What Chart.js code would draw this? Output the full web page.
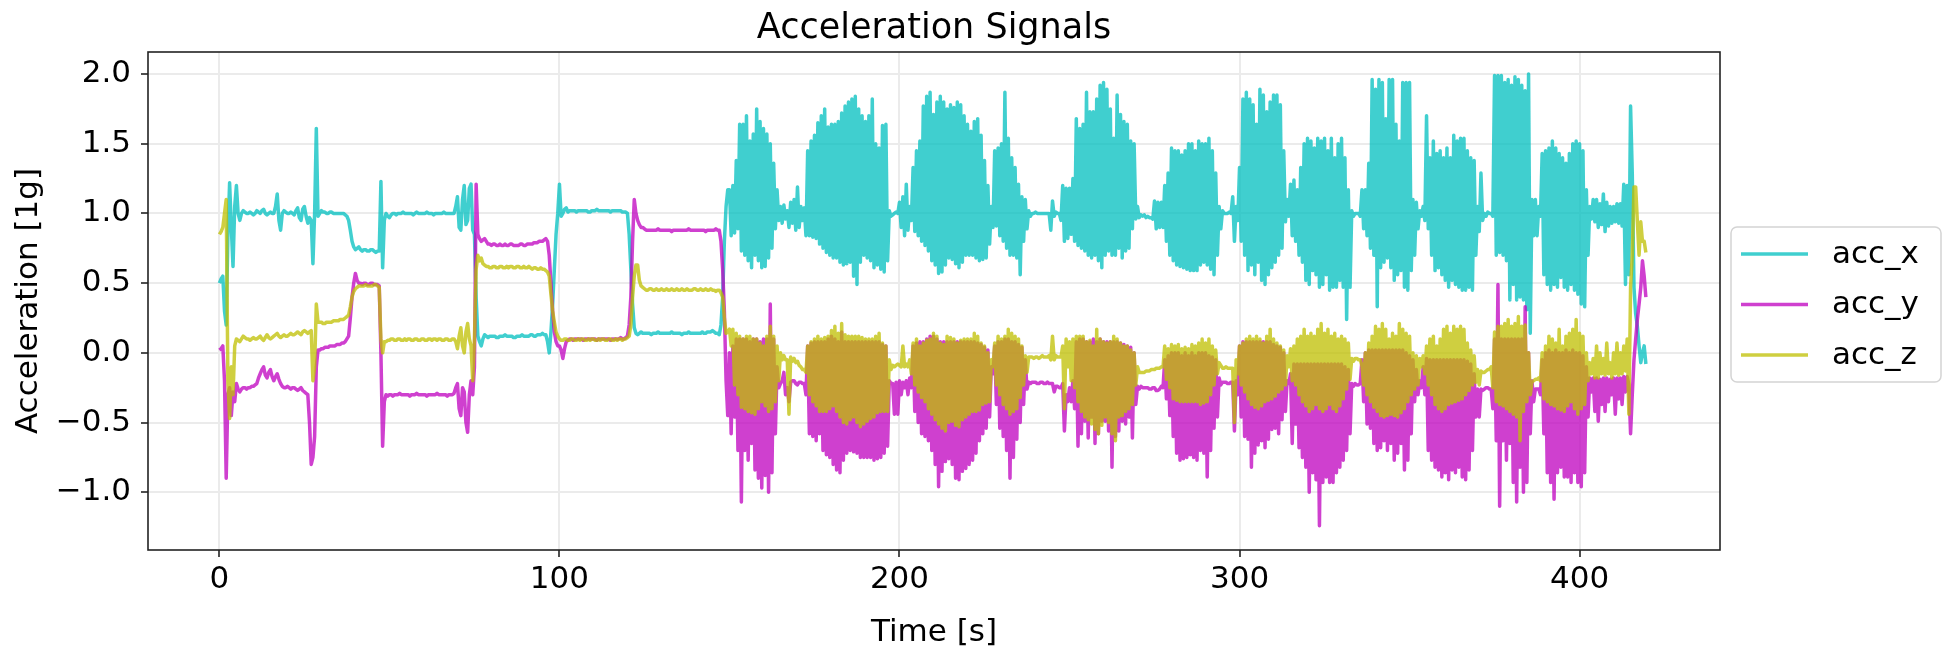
<!DOCTYPE html>
<html>
<head>
<meta charset="utf-8">
<title>Acceleration Signals</title>
<script src="https://cdn.jsdelivr.net/npm/chart.js@4.4.1/dist/chart.umd.min.js"></script>
<style>
  html, body { margin: 0; padding: 0; background: #fff; }
  #wrap { width: 1944px; height: 666px; }
</style>
</head>
<body>
<div id="wrap"><canvas id="chart" width="1944" height="666"></canvas></div>
<script>
// Signals, two readings per second:
// acc*   -> at t = 0, 1, 2 ... s (crest of the fast oscillation where there is one)
// acc*Half -> at t = 0.5, 1.5, 2.5 ... s (trough of the fast oscillation)
const seriesNames = ['acc_x', 'acc_y', 'acc_z'];
const sampleStart = 0;   // s
const samplePeriod = 1;  // s

const accX = [
  0.50, 0.55, 0.20, 1.22, 0.62, 1.20, 0.95, 1.02, 1.00, 1.01,
  0.99, 1.02, 1.00, 1.03, 0.99, 1.01, 1.00, 1.14, 0.88, 1.02,
  1.00, 1.01, 0.99, 1.04, 0.95, 1.05, 0.93, 0.95, 1.00, 0.98,
  1.02, 1.01, 1.00, 1.01, 1.00, 1.00, 1.00, 0.99, 0.95, 0.80,
  0.74, 0.76, 0.73, 0.74, 0.73, 0.74, 0.72, 0.73, 0.61, 1.00,
  0.97, 1.00, 0.99, 1.00, 1.01, 1.00, 1.00, 0.99, 1.01, 1.00,
  1.00, 1.01, 1.00, 0.99, 1.00, 1.00, 1.01, 1.00, 1.00, 1.00,
  1.12, 0.88, 1.20, 0.95, 1.21, 0.85, 0.12, 0.05, 0.13, 0.11,
  0.12, 0.12, 0.11, 0.12, 0.13, 0.12, 0.12, 0.11, 0.12, 0.13,
  0.12, 0.12, 0.13, 0.12, 0.13, 0.14, 0.13, 0.00, 0.35, 0.85,
  1.21, 1.00, 1.04, 1.02, 1.02, 1.01, 1.02, 1.02, 1.02, 1.01,
  1.02, 1.03, 1.02, 1.02, 1.02, 1.01, 1.02, 1.02, 1.02, 1.01,
  1.00, 0.60, 0.18, 0.13, 0.15, 0.14, 0.14, 0.13, 0.14, 0.15,
  0.14, 0.14, 0.14, 0.15, 0.14, 0.14, 0.13, 0.14, 0.15, 0.14,
  0.14, 0.14, 0.15, 0.14, 0.15, 0.16, 0.14, 0.13, 0.40, 1.05,
  1.17, 1.20, 1.38, 1.64, 1.64, 1.70, 1.52, 1.57, 1.75, 1.66,
  1.61, 1.57, 1.50, 1.36, 1.17, 1.05, 1.06, 1.02, 1.08, 1.10,
  1.19, 1.05, 1.04, 1.45, 1.52, 1.56, 1.65, 1.70, 1.75, 1.62,
  1.64, 1.64, 1.66, 1.72, 1.77, 1.80, 1.82, 1.84, 1.75, 1.70,
  1.66, 1.70, 1.82, 1.50, 1.47, 1.63, 1.64, 1.02, 0.99, 1.01,
  1.08, 1.12, 1.21, 1.05, 1.33, 1.45, 1.52, 1.77, 1.84, 1.87,
  1.71, 1.80, 1.84, 1.80, 1.75, 1.78, 1.76, 1.80, 1.78, 1.70,
  1.64, 1.59, 1.66, 1.68, 1.56, 1.38, 1.20, 1.05, 1.45, 1.47,
  1.50, 1.87, 1.54, 1.40, 1.33, 1.21, 1.12, 1.10, 1.02, 1.00,
  1.01, 1.00, 1.00, 1.00, 1.00, 1.09, 1.01, 1.00, 1.20, 1.18,
  1.18, 1.25, 1.68, 1.61, 1.64, 1.87, 1.73, 1.73, 1.82, 1.92,
  1.94, 1.89, 1.75, 1.54, 1.85, 1.71, 1.66, 1.64, 1.52, 1.50,
  1.05, 0.99, 0.99, 0.98, 0.97, 1.09, 1.08, 1.08, 1.20, 1.29,
  1.47, 1.45, 1.45, 1.42, 1.45, 1.50, 1.50, 1.45, 1.52, 1.50,
  1.50, 1.54, 1.45, 1.29, 1.05, 1.02, 1.00, 1.01, 1.12, 1.05,
  1.33, 1.82, 1.87, 1.82, 1.78, 1.64, 1.89, 1.85, 1.73, 1.80,
  1.85, 1.85, 1.78, 1.45, 1.10, 1.21, 1.24, 1.17, 1.33, 1.50,
  1.54, 1.52, 1.47, 1.54, 1.52, 1.54, 1.45, 1.54, 1.40, 1.50,
  1.54, 1.40, 1.17, 1.02, 1.00, 1.00, 1.17, 1.17, 1.36, 1.96,
  1.89, 1.96, 1.94, 1.68, 1.96, 1.96, 1.64, 1.52, 1.94, 1.94,
  1.94, 1.10, 1.08, 1.02, 1.05, 1.70, 1.40, 1.52, 1.43, 1.45,
  1.40, 1.47, 1.40, 1.56, 1.52, 1.54, 1.54, 1.45, 1.40, 1.38,
  1.05, 1.29, 1.00, 1.01, 1.00, 1.99, 1.99, 1.99, 1.94, 1.96,
  1.92, 1.98, 1.96, 1.92, 1.88, 2.00, 1.10, 1.10, 1.05, 1.43,
  1.45, 1.47, 1.52, 1.47, 1.43, 1.40, 1.36, 1.43, 1.50, 1.52,
  1.50, 1.45, 1.17, 1.05, 1.10, 1.10, 1.07, 1.14, 1.08, 1.05,
  1.05, 1.07, 1.07, 1.21, 1.20, 1.77, 0.47, 0.19, -0.07, 0.05
];
const accXHalf = [
  0.53, 0.30, 0.85, 0.90, 1.05, 1.00, 1.00, 1.01, 1.00, 1.00,
  1.00, 1.01, 1.02, 1.00, 1.00, 1.00, 1.05, 0.95, 1.00, 1.01,
  1.00, 1.00, 1.02, 0.97, 1.03, 0.98, 0.97, 0.64, 1.61, 1.00,
  1.01, 1.00, 1.01, 1.00, 1.00, 1.00, 1.00, 0.98, 0.88, 0.76,
  0.75, 0.74, 0.74, 0.73, 0.74, 0.73, 0.73, 1.23, 0.95, 0.98,
  0.99, 1.00, 1.00, 1.00, 1.00, 1.00, 1.00, 1.00, 1.00, 1.00,
  1.00, 1.00, 1.00, 1.00, 1.00, 1.00, 1.00, 1.00, 1.00, 1.05,
  0.90, 1.10, 0.92, 1.18, 0.88, 0.40, 0.08, 0.10, 0.12, 0.12,
  0.12, 0.11, 0.12, 0.12, 0.12, 0.12, 0.11, 0.12, 0.12, 0.12,
  0.12, 0.13, 0.12, 0.13, 0.13, 0.13, 0.08, 0.15, 0.60, 1.00,
  0.98, 1.03, 1.01, 1.02, 1.02, 1.02, 1.02, 1.02, 1.01, 1.02,
  1.02, 1.02, 1.02, 1.02, 1.02, 1.02, 1.02, 1.02, 1.01, 1.01,
  0.85, 0.35, 0.14, 0.14, 0.14, 0.14, 0.14, 0.14, 0.14, 0.14,
  0.14, 0.14, 0.14, 0.14, 0.14, 0.14, 0.14, 0.14, 0.14, 0.14,
  0.14, 0.14, 0.14, 0.15, 0.15, 0.15, 0.14, 0.20, 0.80, 1.17,
  0.84, 0.86, 0.89, 0.73, 0.70, 0.66, 0.61, 0.70, 0.66, 0.61,
  0.62, 0.68, 0.75, 0.89, 0.95, 0.93, 0.96, 0.90, 0.93, 0.88,
  0.90, 0.95, 0.84, 0.84, 0.83, 0.82, 0.78, 0.75, 0.72, 0.70,
  0.68, 0.68, 0.65, 0.63, 0.64, 0.65, 0.55, 0.49, 0.65, 0.70,
  0.68, 0.66, 0.61, 0.63, 0.60, 0.58, 0.66, 0.98, 1.00, 1.00,
  0.90, 0.84, 0.88, 0.95, 0.87, 0.84, 0.80, 0.77, 0.73, 0.66,
  0.63, 0.57, 0.58, 0.63, 0.68, 0.67, 0.64, 0.61, 0.65, 0.70,
  0.70, 0.70, 0.68, 0.66, 0.67, 0.68, 0.78, 0.90, 0.91, 0.84,
  0.80, 0.75, 0.70, 0.70, 0.68, 0.56, 0.80, 0.89, 0.98, 1.00,
  1.00, 1.00, 1.00, 1.00, 0.88, 0.98, 1.00, 0.95, 0.80, 0.82,
  0.85, 0.80, 0.77, 0.75, 0.73, 0.70, 0.68, 0.70, 0.66, 0.61,
  0.70, 0.73, 0.70, 0.70, 0.75, 0.68, 0.73, 0.75, 0.89, 0.96,
  0.97, 0.98, 0.97, 0.97, 0.96, 0.89, 0.90, 0.90, 0.80, 0.70,
  0.66, 0.63, 0.62, 0.61, 0.60, 0.59, 0.59, 0.59, 0.63, 0.65,
  0.63, 0.60, 0.56, 0.70, 0.89, 1.00, 1.00, 1.00, 0.80, 0.95,
  0.80, 0.70, 0.59, 0.63, 0.56, 0.65, 0.52, 0.49, 0.56, 0.61,
  0.65, 0.70, 0.75, 0.94, 0.98, 0.84, 0.80, 0.70, 0.65, 0.52,
  0.49, 0.59, 0.56, 0.47, 0.49, 0.56, 0.45, 0.47, 0.47, 0.52,
  0.47, 0.24, 0.47, 0.98, 1.00, 0.98, 0.89, 0.84, 0.75, 0.70,
  0.33, 0.61, 0.65, 0.68, 0.61, 0.52, 0.56, 0.59, 0.47, 0.45,
  0.59, 0.70, 0.89, 0.98, 0.95, 0.89, 0.70, 0.59, 0.61, 0.56,
  0.52, 0.47, 0.52, 0.49, 0.47, 0.45, 0.45, 0.47, 0.45, 0.70,
  0.87, 0.95, 0.98, 1.00, 0.98, 0.70, 0.72, 0.70, 0.66, 0.38,
  0.49, 0.38, 0.40, 0.38, 0.31, 0.14, 0.84, 0.84, 0.98, 0.56,
  0.49, 0.45, 0.49, 0.47, 0.54, 0.47, 0.45, 0.49, 0.45, 0.42,
  0.35, 0.33, 0.70, 0.96, 0.94, 0.90, 0.92, 0.87, 0.91, 0.93,
  0.94, 0.93, 0.91, 0.49, 0.56, 1.29, 0.28, 0.05, 0.00, -0.08
];

const accY = [
  0.02, 0.05, -0.90, -0.25, -0.28, -0.22, -0.28, -0.25, -0.26, -0.25,
  -0.24, -0.22, -0.15, -0.10, -0.18, -0.12, -0.20, -0.15, -0.22, -0.25,
  -0.24, -0.26, -0.25, -0.27, -0.25, -0.28, -0.30, -0.80, -0.60, 0.02,
  0.03, 0.04, 0.04, 0.05, 0.05, 0.06, 0.07, 0.08, 0.12, 0.40,
  0.57, 0.50, 0.49, 0.50, 0.49, 0.50, 0.49, 0.48, -0.67, -0.30,
  -0.30, -0.31, -0.30, -0.29, -0.30, -0.30, -0.31, -0.30, -0.29, -0.30,
  -0.30, -0.31, -0.30, -0.30, -0.29, -0.30, -0.30, -0.31, -0.30, -0.29,
  -0.22, -0.45, -0.28, -0.57, -0.20, -0.10, 0.85, 0.80, 0.82, 0.78,
  0.77, 0.78, 0.77, 0.77, 0.78, 0.77, 0.78, 0.77, 0.77, 0.78,
  0.77, 0.78, 0.78, 0.79, 0.80, 0.80, 0.82, 0.70, 0.30, 0.08,
  0.05, -0.04, 0.08, 0.10, 0.09, 0.10, 0.10, 0.09, 0.10, 0.10,
  0.10, 0.09, 0.10, 0.10, 0.10, 0.09, 0.10, 0.10, 0.11, 0.10,
  0.12, 0.40, 1.10, 0.95, 0.90, 0.89, 0.88, 0.88, 0.88, 0.89,
  0.88, 0.88, 0.88, 0.87, 0.88, 0.88, 0.88, 0.88, 0.89, 0.88,
  0.88, 0.88, 0.88, 0.87, 0.88, 0.88, 0.89, 0.88, 0.60, -0.20,
  0.00, 0.05, 0.10, 0.10, 0.10, 0.10, 0.08, 0.10, 0.10, 0.08,
  0.10, 0.10, 0.35, 0.10, -0.10, -0.22, -0.14, -0.25, -0.21, -0.20,
  -0.23, -0.21, -0.22, 0.05, 0.07, 0.08, 0.08, 0.08, 0.08, 0.10,
  0.12, 0.10, 0.08, 0.15, 0.08, 0.08, 0.08, 0.08, 0.08, 0.08,
  0.08, 0.08, 0.08, 0.08, 0.08, 0.06, 0.05, -0.20, -0.22, -0.21,
  -0.20, -0.21, -0.20, -0.18, 0.05, 0.07, 0.08, 0.08, 0.10, 0.12,
  0.12, 0.10, 0.08, 0.08, 0.08, 0.08, 0.08, 0.08, 0.08, 0.08,
  0.08, 0.08, 0.08, 0.07, 0.06, 0.04, 0.02, -0.10, 0.05, 0.08,
  0.08, 0.10, 0.10, 0.08, 0.08, 0.06, 0.04, -0.05, -0.21, -0.21,
  -0.21, -0.22, -0.21, -0.22, -0.22, -0.22, -0.24, -0.25, -0.22, -0.30,
  -0.25, -0.20, 0.08, 0.10, 0.10, 0.08, 0.08, 0.10, 0.08, 0.10,
  0.08, 0.08, 0.08, 0.08, 0.08, 0.07, 0.06, 0.05, 0.04, 0.00,
  -0.24, -0.24, -0.25, -0.25, -0.26, -0.25, -0.27, -0.24, -0.05, -0.02,
  0.00, 0.00, 0.00, -0.02, 0.00, -0.02, 0.00, -0.02, 0.00, 0.00,
  0.00, -0.02, -0.03, -0.05, -0.18, -0.21, -0.21, -0.22, -0.21, -0.20,
  0.05, 0.08, 0.08, 0.08, 0.08, 0.08, 0.08, 0.08, 0.08, 0.08,
  0.06, 0.05, 0.04, 0.00, -0.20, -0.15, -0.08, -0.08, -0.08, -0.08,
  -0.08, -0.08, -0.08, -0.08, -0.08, -0.08, -0.08, -0.08, -0.08, -0.08,
  -0.08, -0.10, -0.12, -0.22, -0.22, -0.23, -0.05, 0.00, 0.02, 0.02,
  0.02, 0.02, 0.02, 0.02, 0.02, 0.02, 0.02, 0.02, 0.02, 0.00,
  -0.02, -0.05, -0.12, -0.20, -0.10, -0.04, -0.05, -0.05, -0.05, -0.05,
  -0.05, -0.05, -0.05, -0.05, -0.05, -0.05, -0.05, -0.06, -0.08, -0.15,
  -0.26, -0.26, -0.26, -0.25, -0.26, 0.10, 0.49, 0.10, 0.10, 0.10,
  0.10, 0.10, 0.10, 0.10, 0.33, 0.00, -0.20, -0.26, -0.26, -0.05,
  0.00, 0.02, 0.00, 0.02, 0.00, 0.00, 0.02, 0.00, 0.02, 0.00,
  0.00, -0.02, -0.10, -0.18, -0.18, -0.18, -0.19, -0.18, -0.18, -0.19,
  -0.18, -0.18, -0.18, -0.17, -0.17, -0.58, -0.05, 0.24, 0.47, 0.55
];
const accYHalf = [
  0.03, -0.20, -0.30, -0.45, -0.35, -0.26, -0.26, -0.25, -0.25, -0.24,
  -0.23, -0.18, -0.12, -0.16, -0.14, -0.17, -0.17, -0.19, -0.24, -0.25,
  -0.25, -0.25, -0.26, -0.26, -0.27, -0.29, -0.50, -0.75, -0.10, 0.02,
  0.03, 0.04, 0.05, 0.05, 0.06, 0.06, 0.07, 0.10, 0.25, 0.50,
  0.52, 0.50, 0.50, 0.49, 0.50, 0.49, 0.49, 0.00, -0.35, -0.31,
  -0.30, -0.30, -0.30, -0.30, -0.30, -0.30, -0.30, -0.30, -0.30, -0.30,
  -0.30, -0.30, -0.30, -0.30, -0.30, -0.30, -0.30, -0.30, -0.30, -0.25,
  -0.40, -0.25, -0.50, -0.30, -0.30, 1.21, 0.82, 0.81, 0.80, 0.78,
  0.78, 0.77, 0.78, 0.77, 0.77, 0.78, 0.77, 0.77, 0.78, 0.77,
  0.78, 0.78, 0.79, 0.79, 0.80, 0.81, 0.80, 0.50, 0.15, 0.05,
  0.02, 0.03, 0.09, 0.10, 0.10, 0.10, 0.10, 0.10, 0.10, 0.10,
  0.10, 0.10, 0.10, 0.10, 0.10, 0.10, 0.10, 0.10, 0.10, 0.11,
  0.20, 0.80, 1.00, 0.92, 0.90, 0.88, 0.88, 0.88, 0.88, 0.88,
  0.88, 0.88, 0.88, 0.88, 0.88, 0.88, 0.88, 0.88, 0.88, 0.88,
  0.88, 0.88, 0.88, 0.88, 0.88, 0.88, 0.88, 0.80, 0.30, -0.45,
  -0.58, -0.46, -0.70, -1.07, -0.70, -0.77, -0.65, -0.84, -0.90, -0.97,
  -0.88, -1.00, -0.86, -0.58, -0.25, -0.20, -0.30, -0.35, -0.20, -0.22,
  -0.21, -0.22, -0.30, -0.58, -0.60, -0.63, -0.58, -0.70, -0.73, -0.75,
  -0.80, -0.84, -0.86, -0.77, -0.72, -0.70, -0.71, -0.72, -0.75, -0.75,
  -0.75, -0.75, -0.77, -0.76, -0.75, -0.72, -0.67, -0.22, -0.44, -0.44,
  -0.30, -0.25, -0.30, -0.25, -0.42, -0.50, -0.58, -0.60, -0.63, -0.70,
  -0.80, -0.96, -0.85, -0.78, -0.76, -0.80, -0.90, -0.91, -0.85, -0.83,
  -0.80, -0.77, -0.72, -0.63, -0.58, -0.54, -0.46, -0.15, -0.37, -0.54,
  -0.60, -0.70, -0.90, -0.75, -0.62, -0.50, -0.37, -0.26, -0.22, -0.21,
  -0.22, -0.21, -0.22, -0.21, -0.22, -0.28, -0.24, -0.25, -0.56, -0.35,
  -0.35, -0.40, -0.67, -0.58, -0.49, -0.61, -0.46, -0.65, -0.58, -0.49,
  -0.49, -0.56, -0.82, -0.60, -0.56, -0.49, -0.51, -0.46, -0.61, -0.37,
  -0.26, -0.25, -0.25, -0.26, -0.25, -0.27, -0.26, -0.25, -0.33, -0.45,
  -0.60, -0.72, -0.77, -0.76, -0.75, -0.73, -0.75, -0.77, -0.70, -0.72,
  -0.89, -0.70, -0.54, -0.46, -0.23, -0.21, -0.22, -0.21, -0.56, -0.30,
  -0.46, -0.60, -0.62, -0.82, -0.72, -0.66, -0.63, -0.68, -0.62, -0.55,
  -0.54, -0.58, -0.48, -0.42, -0.22, -0.65, -0.51, -0.68, -0.75, -0.82,
  -1.00, -0.86, -0.91, -1.24, -0.93, -0.89, -0.93, -0.93, -0.86, -0.82,
  -0.77, -0.70, -0.58, -0.24, -0.23, -0.22, -0.35, -0.51, -0.54, -0.65,
  -0.70, -0.68, -0.63, -0.70, -0.65, -0.77, -0.72, -0.65, -0.84, -0.77,
  -0.58, -0.35, -0.30, -0.25, -0.30, -0.70, -0.77, -0.82, -0.84, -0.89,
  -0.86, -0.91, -0.84, -0.86, -0.82, -0.89, -0.91, -0.84, -0.70, -0.46,
  -0.46, -0.27, -0.25, -0.26, -0.40, -0.63, -1.10, -0.63, -0.77, -0.65,
  -0.93, -1.07, -0.82, -1.00, -0.93, -0.58, -0.35, -0.26, -0.30, -0.58,
  -0.86, -0.93, -1.05, -0.86, -0.82, -0.89, -0.89, -0.93, -0.86, -0.93,
  -0.96, -0.86, -0.46, -0.28, -0.42, -0.49, -0.37, -0.42, -0.35, -0.30,
  -0.44, -0.33, -0.37, -0.28, -0.23, -0.30, 0.10, 0.35, 0.66, 0.40
];

const accZ = [
  0.85, 0.90, 1.10, -0.47, -0.30, 0.10, 0.08, 0.12, 0.10, 0.09,
  0.11, 0.10, 0.12, 0.09, 0.13, 0.10, 0.12, 0.14, 0.11, 0.13,
  0.12, 0.14, 0.13, 0.15, 0.13, 0.16, 0.14, 0.16, -0.10, 0.22,
  0.22, 0.21, 0.22, 0.22, 0.23, 0.23, 0.24, 0.25, 0.27, 0.40,
  0.46, 0.48, 0.48, 0.49, 0.48, 0.48, 0.49, 0.47, 0.00, 0.08,
  0.09, 0.10, 0.09, 0.10, 0.09, 0.09, 0.10, 0.09, 0.10, 0.09,
  0.10, 0.09, 0.10, 0.10, 0.09, 0.10, 0.09, 0.10, 0.09, 0.10,
  0.03, 0.18, 0.00, 0.21, 0.05, 0.10, 0.70, 0.68, 0.63, 0.62,
  0.61, 0.62, 0.61, 0.62, 0.61, 0.61, 0.62, 0.61, 0.62, 0.61,
  0.61, 0.62, 0.60, 0.61, 0.60, 0.60, 0.59, 0.55, 0.30, 0.15,
  0.10, 0.09, 0.10, 0.09, 0.10, 0.09, 0.09, 0.10, 0.09, 0.09,
  0.10, 0.09, 0.09, 0.10, 0.09, 0.10, 0.09, 0.09, 0.10, 0.10,
  0.11, 0.20, 0.55, 0.63, 0.48, 0.46, 0.45, 0.46, 0.45, 0.45,
  0.46, 0.45, 0.45, 0.46, 0.45, 0.45, 0.46, 0.45, 0.45, 0.45,
  0.46, 0.45, 0.45, 0.46, 0.45, 0.45, 0.44, 0.45, 0.40, 0.14,
  0.17, 0.17, 0.14, 0.12, 0.10, 0.12, 0.12, 0.10, 0.10, 0.07,
  0.05, 0.12, 0.19, 0.12, 0.05, 0.00, -0.02, -0.05, -0.03, -0.04,
  -0.06, -0.10, -0.12, 0.05, 0.08, 0.10, 0.12, 0.10, 0.11, 0.12,
  0.16, 0.19, 0.14, 0.21, 0.13, 0.12, 0.12, 0.12, 0.12, 0.11,
  0.10, 0.10, 0.10, 0.12, 0.14, 0.07, 0.05, -0.05, -0.09, -0.09,
  -0.09, 0.05, -0.08, -0.05, 0.07, 0.10, 0.05, 0.07, 0.09, 0.10,
  0.14, 0.12, 0.07, 0.06, 0.12, 0.11, 0.10, 0.07, 0.09, 0.10,
  0.10, 0.10, 0.14, 0.12, 0.07, 0.05, 0.00, -0.05, 0.07, 0.12,
  0.10, 0.12, 0.17, 0.14, 0.12, 0.10, 0.05, -0.02, -0.03, -0.03,
  -0.03, -0.04, -0.02, -0.03, -0.02, 0.12, -0.02, -0.03, 0.05, 0.10,
  0.08, 0.10, 0.12, 0.12, 0.12, 0.08, 0.09, 0.05, 0.17, 0.10,
  0.08, 0.07, 0.08, 0.12, 0.10, 0.07, 0.05, 0.05, 0.02, 0.00,
  -0.10, -0.14, -0.14, -0.13, -0.12, -0.12, -0.11, -0.10, 0.05, 0.03,
  0.06, 0.05, 0.06, 0.03, 0.04, 0.03, 0.06, 0.05, 0.07, 0.10,
  0.07, 0.10, 0.05, 0.02, -0.07, -0.11, -0.10, -0.11, -0.11, -0.05,
  0.05, 0.07, 0.10, 0.12, 0.10, 0.12, 0.10, 0.07, 0.12, 0.17,
  0.10, 0.07, 0.05, 0.02, -0.02, 0.03, 0.05, 0.10, 0.12, 0.17,
  0.12, 0.14, 0.12, 0.17, 0.21, 0.14, 0.17, 0.12, 0.14, 0.10,
  0.12, 0.10, 0.07, -0.04, -0.04, -0.05, -0.09, 0.00, 0.07, 0.12,
  0.19, 0.17, 0.21, 0.17, 0.10, 0.14, 0.12, 0.21, 0.17, 0.14,
  0.12, 0.00, -0.02, -0.04, -0.02, 0.05, 0.10, 0.12, 0.05, 0.10,
  0.17, 0.19, 0.14, 0.19, 0.17, 0.19, 0.17, 0.07, 0.02, -0.02,
  -0.12, -0.13, -0.14, -0.12, -0.10, 0.15, 0.19, 0.19, 0.21, 0.24,
  0.19, 0.21, 0.26, 0.19, 0.20, 0.00, -0.21, -0.19, -0.18, 0.00,
  0.05, 0.12, 0.10, 0.07, 0.17, 0.05, 0.12, 0.14, 0.17, 0.24,
  0.14, 0.12, 0.00, -0.07, -0.04, 0.05, 0.00, -0.04, 0.07, -0.07,
  0.00, 0.07, 0.00, 0.05, 0.10, 0.47, 1.19, 0.94, 0.94, 0.80
];
const accZHalf = [
  0.87, 1.00, -0.20, -0.10, 0.05, 0.09, 0.10, 0.11, 0.10, 0.10,
  0.10, 0.11, 0.10, 0.11, 0.11, 0.11, 0.13, 0.12, 0.12, 0.12,
  0.13, 0.13, 0.14, 0.14, 0.15, 0.15, 0.15, -0.20, 0.35, 0.22,
  0.21, 0.22, 0.22, 0.23, 0.23, 0.24, 0.24, 0.26, 0.33, 0.44,
  0.47, 0.48, 0.48, 0.48, 0.48, 0.49, 0.48, 0.10, 0.08, 0.09,
  0.10, 0.09, 0.10, 0.09, 0.10, 0.10, 0.09, 0.10, 0.09, 0.10,
  0.09, 0.10, 0.09, 0.10, 0.10, 0.09, 0.10, 0.09, 0.10, 0.08,
  0.12, 0.05, 0.15, 0.10, -0.20, 0.60, 0.66, 0.64, 0.62, 0.61,
  0.62, 0.61, 0.62, 0.61, 0.62, 0.62, 0.61, 0.62, 0.61, 0.62,
  0.61, 0.61, 0.61, 0.60, 0.61, 0.60, 0.58, 0.42, 0.22, 0.12,
  0.09, 0.10, 0.09, 0.10, 0.09, 0.10, 0.10, 0.09, 0.10, 0.10,
  0.09, 0.10, 0.10, 0.09, 0.10, 0.09, 0.10, 0.10, 0.09, 0.10,
  0.12, 0.40, 0.63, 0.52, 0.47, 0.45, 0.46, 0.45, 0.46, 0.45,
  0.45, 0.46, 0.45, 0.45, 0.46, 0.45, 0.45, 0.46, 0.45, 0.46,
  0.45, 0.46, 0.45, 0.45, 0.46, 0.45, 0.45, 0.43, 0.25, 0.15,
  0.05, -0.23, -0.30, -0.39, -0.40, -0.42, -0.43, -0.44, -0.40, -0.35,
  -0.38, -0.42, -0.40, -0.35, -0.20, -0.05, -0.05, -0.44, -0.06, -0.07,
  -0.09, -0.12, -0.14, -0.30, -0.35, -0.38, -0.42, -0.42, -0.42, -0.40,
  -0.38, -0.42, -0.46, -0.50, -0.51, -0.48, -0.46, -0.50, -0.53, -0.51,
  -0.49, -0.47, -0.46, -0.43, -0.42, -0.42, -0.42, -0.12, -0.10, -0.08,
  -0.10, -0.10, -0.10, -0.15, -0.23, -0.28, -0.32, -0.35, -0.40, -0.44,
  -0.48, -0.51, -0.54, -0.56, -0.50, -0.49, -0.52, -0.53, -0.48, -0.46,
  -0.44, -0.42, -0.42, -0.41, -0.37, -0.36, -0.35, -0.10, -0.23, -0.30,
  -0.37, -0.40, -0.44, -0.42, -0.40, -0.32, -0.23, -0.14, -0.03, -0.04,
  -0.03, -0.03, -0.03, -0.03, -0.05, -0.05, -0.03, -0.03, -0.40, -0.10,
  -0.20, -0.25, -0.35, -0.42, -0.46, -0.48, -0.51, -0.55, -0.58, -0.52,
  -0.46, -0.50, -0.58, -0.63, -0.46, -0.45, -0.42, -0.40, -0.37, -0.23,
  -0.14, -0.14, -0.13, -0.13, -0.12, -0.11, -0.11, -0.10, -0.19, -0.25,
  -0.33, -0.34, -0.35, -0.35, -0.35, -0.35, -0.35, -0.35, -0.37, -0.36,
  -0.35, -0.30, -0.23, -0.15, -0.09, -0.11, -0.11, -0.11, -0.50, -0.15,
  -0.23, -0.28, -0.33, -0.37, -0.39, -0.40, -0.38, -0.35, -0.34, -0.33,
  -0.31, -0.28, -0.26, -0.23, -0.10, -0.20, -0.23, -0.30, -0.35, -0.38,
  -0.42, -0.40, -0.37, -0.40, -0.42, -0.40, -0.37, -0.40, -0.42, -0.38,
  -0.33, -0.26, -0.19, -0.06, -0.04, -0.05, -0.23, -0.30, -0.35, -0.39,
  -0.42, -0.45, -0.46, -0.45, -0.44, -0.45, -0.46, -0.43, -0.40, -0.35,
  -0.30, -0.26, -0.23, -0.10, -0.15, -0.23, -0.30, -0.37, -0.40, -0.42,
  -0.40, -0.37, -0.36, -0.35, -0.34, -0.33, -0.30, -0.27, -0.23, -0.21,
  -0.23, -0.14, -0.13, -0.12, -0.25, -0.35, -0.37, -0.38, -0.40, -0.42,
  -0.44, -0.46, -0.63, -0.42, -0.35, -0.30, -0.20, -0.19, -0.20, -0.33,
  -0.35, -0.37, -0.38, -0.40, -0.41, -0.42, -0.38, -0.35, -0.40, -0.44,
  -0.40, -0.37, -0.20, -0.15, -0.18, -0.18, -0.15, -0.16, -0.15, -0.18,
  -0.15, -0.16, -0.15, -0.13, -0.44, 0.70, 1.19, 0.70, 0.80, 0.72
];

const xTicks = [0, 100, 200, 300, 400];
const yTicks = [-1.0, -0.5, 0.0, 0.5, 1.0, 1.5, 2.0];

const seriesColors = ['rgba(0,191,191,0.75)', 'rgba(191,0,191,0.75)', 'rgba(191,191,0,0.75)'];

Chart.defaults.font.family = '"DejaVu Sans", sans-serif';
Chart.defaults.color = '#000';

// interleave the whole-second and half-second readings
const toPoints = (whole, half) => whole.flatMap((v, i) => [
  { x: sampleStart + i * samplePeriod, y: v },
  { x: sampleStart + (i + 0.5) * samplePeriod, y: half[i] }
]);

// title, full frame and matplotlib-style legend
const decorations = {
  id: 'decorations',
  afterDatasetsDraw(chart) {
    const { ctx, chartArea: a } = chart;
    ctx.save();
    ctx.strokeStyle = '#222';
    ctx.lineWidth = 1.6;
    ctx.strokeRect(a.left, a.top, a.right - a.left, a.bottom - a.top);
    ctx.restore();
  },
  afterDraw(chart) {
    const { ctx, chartArea: a } = chart;
    ctx.save();
    ctx.fillStyle = '#000';
    ctx.font = '35px "DejaVu Sans"';
    ctx.textAlign = 'center';
    ctx.textBaseline = 'middle';
    ctx.fillText('Acceleration Signals', (a.left + a.right) / 2, 29);

    const x0 = a.right + 11, y0 = 227, w = 210, h = 155;
    ctx.beginPath();
    ctx.roundRect(x0, y0, w, h, 6);
    ctx.fillStyle = 'rgba(255,255,255,0.8)';
    ctx.fill();
    ctx.strokeStyle = '#d4d4d4';
    ctx.lineWidth = 1.5;
    ctx.stroke();

    ctx.font = '31px "DejaVu Sans"';
    ctx.textAlign = 'left';
    chart.data.datasets.forEach((ds, i) => {
      const y = y0 + 27 + i * 50.5;
      ctx.strokeStyle = ds.borderColor;
      ctx.lineWidth = ds.borderWidth;
      ctx.beginPath();
      ctx.moveTo(x0 + 10, y);
      ctx.lineTo(x0 + 77, y);
      ctx.stroke();
      ctx.fillStyle = '#000';
      ctx.fillText(ds.label, x0 + 101, y + 0.5);
    });
    ctx.restore();
  }
};

const gridStyle = { color: '#ebebeb', lineWidth: 2, drawTicks: true, tickLength: 7, tickWidth: 1.6, tickColor: '#222' };

new Chart(document.getElementById('chart'), {
  type: 'line',
  data: {
    datasets: [[accX, accXHalf], [accY, accYHalf], [accZ, accZHalf]].map(([whole, half], i) => ({
      label: seriesNames[i],
      data: toPoints(whole, half),
      borderColor: seriesColors[i],
      backgroundColor: seriesColors[i],
      borderWidth: 3.5,
      borderJoinStyle: 'round',
      pointRadius: 0,
      fill: false,
      tension: 0,
      order: 3 - i
    }))
  },
  options: {
    responsive: false,
    devicePixelRatio: 1,
    animation: false,
    parsing: false,
    layout: { padding: { top: 52, right: 224, bottom: 0, left: 0 } },
    plugins: {
      legend: { display: false },
      title: { display: false },
      tooltip: { enabled: false }
    },
    scales: {
      x: {
        type: 'linear',
        min: -21,
        max: 441.3,
        afterBuildTicks: s => { s.ticks = xTicks.map(v => ({ value: v })); },
        afterFit: s => { s.height = 116; },
        ticks: { color: '#000', font: { size: 31 }, padding: 4, maxRotation: 0, autoSkip: false, callback: v => String(v) },
        grid: gridStyle,
        border: { display: false },
        title: { display: true, text: 'Time [s]', color: '#000', font: { size: 31 }, padding: { top: 0, bottom: 14 } }
      },
      y: {
        type: 'linear',
        min: -1.414,
        max: 2.158,
        afterBuildTicks: s => { s.ticks = yTicks.map(v => ({ value: v })); },
        afterFit: s => { s.width = 148; },
        ticks: { color: '#000', font: { size: 31 }, padding: 10, callback: v => v.toFixed(1).replace('-', '\u2212') },
        grid: gridStyle,
        border: { display: false },
        title: { display: true, text: 'Acceleration [1g]', color: '#000', font: { size: 31 }, padding: { top: 10, bottom: 0 } }
      }
    }
  },
  plugins: [decorations]
});
</script>
</body>
</html>
